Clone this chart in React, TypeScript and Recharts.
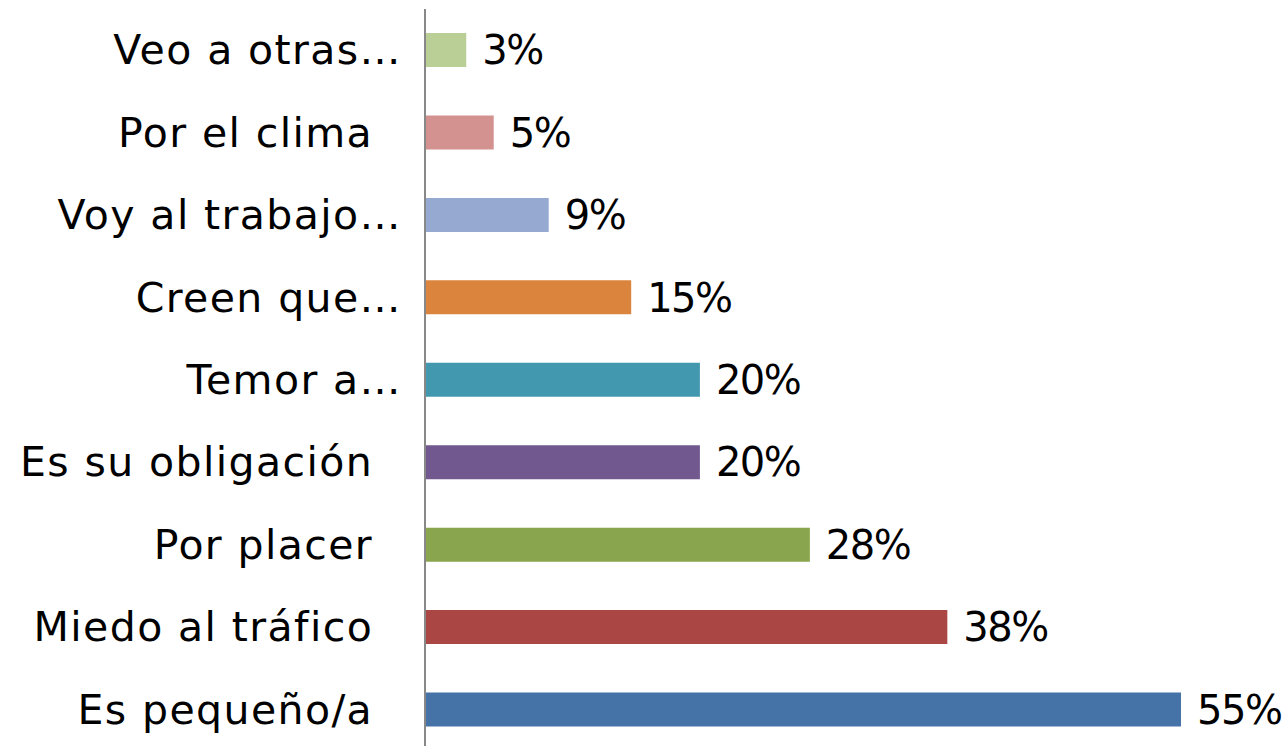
import React from "react";
import { BarChart, Bar, XAxis, YAxis, Cell, LabelList } from "recharts";

// categories, top to bottom as they appear in the picture
const categories = [
  "Veo a otras…",
  "Por el clima\u00a0\u00a0",
  "Voy al trabajo…",
  "Creen que…",
  "Temor a…",
  "Es su obligación\u00a0\u00a0",
  "Por placer\u00a0\u00a0",
  "Miedo al tráfico\u00a0\u00a0",
  "Es pequeño/a\u00a0\u00a0",
];

// percentages
const values = [3, 5, 9, 15, 20, 20, 28, 38, 55];

// one colour per bar
const barColors = [
  "#B9CF96",
  "#D39290",
  "#95A9D1",
  "#DB843D",
  "#4298AF",
  "#71588F",
  "#89A54E",
  "#AA4643",
  "#4572A7",
];

const FONT = "'Comic Sans MS', 'DejaVu Sans', sans-serif";

const chartData = categories.map((name, i) => ({
  name,
  value: values[i],
}));

// left-hand category label, right aligned
const CategoryTick = (props: any) => {
  const { x, y, payload } = props;
  return (
    <text
      x={x}
      y={y}
      dy={14}
      textAnchor="end"
      fontSize={41}
      fontFamily={FONT}
      letterSpacing={1.4}
      fill="#000"
      style={{ whiteSpace: "pre" }}
    >
      {payload.value}
    </text>
  );
};

export default function App() {
  return (
    <div style={{ position: "fixed", left: 0, top: 0, background: "#fff" }}>
      <BarChart
        width={1287}
        height={751}
        data={chartData}
        layout="vertical"
        margin={{ top: 9, right: 106, bottom: 0, left: 0 }}
      >
        <XAxis type="number" domain={[0, 55]} hide />
        <YAxis
          type="category"
          dataKey="name"
          width={425}
          tickLine={false}
          tickMargin={17}
          axisLine={{ stroke: "#888", strokeWidth: 2 }}
          tick={<CategoryTick />}
          interval={0}
        />
        <Bar dataKey="value" barSize={34} isAnimationActive={false}>
          {chartData.map((d, i) => (
            <Cell key={d.name} fill={barColors[i]} />
          ))}
          <LabelList
            dataKey="value"
            position="right"
            offset={16}
            formatter={(v: any) => `${v}%`}
            style={{ fontSize: 40, fontFamily: FONT, fill: "#000", letterSpacing: -1.5 }}
          />
        </Bar>
      </BarChart>
    </div>
  );
}
